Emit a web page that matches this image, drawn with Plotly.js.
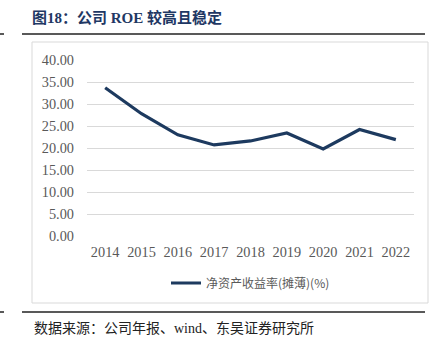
<!DOCTYPE html>
<html>
<head>
<meta charset="utf-8">
<script src="https://cdn.plot.ly/plotly-3.0.1.min.js"></script>
<style>html,body{margin:0;padding:0;background:#fff;}#chart{width:433px;height:354px;}</style>
</head>
<body>
<div id="chart"></div>
<script>
const years = ["2014","2015","2016","2017","2018","2019","2020","2021","2022"];
const roe = [33.7, 27.8, 23.0, 20.7, 21.6, 23.4, 19.8, 24.2, 21.9];
const seriesName = "净资产收益率(摊薄)(%)";
const yTicks = [0,5,10,15,20,25,30,35,40];
const titleText = "<b>图18：公司 ROE 较高且稳定</b>";
const sourceText = "数据来源：公司年报、wind、东吴证券研究所";

const W = 433, H = 354, L = 87, R = 19, T = 60, B = 118;
const pw = W - L - R, ph = H - T - B;
const px = v => (v - L) / pw;
const py = v => (H - B - v) / ph;

const serif = "'Liberation Serif', 'Times New Roman', 'Noto Sans CJK SC', serif";

Plotly.newPlot('chart', [{
  x: years, y: roe, type: 'scatter', mode: 'lines', name: seriesName,
  line: {color: '#1d3a5f', width: 3.2}
}], {
  width: W, height: H,
  margin: {l: L, r: R, t: T, b: B, pad: 0},
  paper_bgcolor: '#fff', plot_bgcolor: '#fff',
  font: {family: serif, color: '#595959', size: 14.3},
  title: {text: titleText, xref: 'container', yref: 'container', x: 32/W, y: 1 - 18/H,
          xanchor: 'left', yanchor: 'middle',
          font: {family: serif, size: 15, color: '#1f3864'}},
  xaxis: {type: 'category', range: [-0.5, years.length - 0.5], showgrid: false, zeroline: false, showline: false,
          ticks: '', tickfont: {size: 14.3, color: '#595959'}, ticklabelstandoff: 6, fixedrange: true},
  yaxis: {range: [0, 40], tickvals: yTicks, ticktext: yTicks.map(v => v.toFixed(2)),
          showgrid: true, gridcolor: '#d9d9d9', gridwidth: 1, zeroline: false, showline: false,
          ticks: '', tickfont: {size: 14.3, color: '#595959'}, ticklabelstandoff: 12, fixedrange: true},
  showlegend: true,
  legend: {orientation: 'h', x: 0.5, xanchor: 'center', y: py(283), yanchor: 'middle',
           font: {family: "'Noto Sans CJK SC', sans-serif", size: 12, color: '#595959'},
           bgcolor: 'rgba(0,0,0,0)'},
  shapes: [
    {type: 'rect', xref: 'paper', yref: 'paper', x0: px(32), x1: px(428), y0: py(42), y1: py(303),
     line: {color: '#d9d9d9', width: 1}, layer: 'below'},
    {type: 'line', xref: 'paper', yref: 'paper', x0: px(22), x1: px(425), y0: py(34), y1: py(34),
     line: {color: '#222', width: 1.5}},
    {type: 'line', xref: 'paper', yref: 'paper', x0: px(0), x1: px(4), y0: py(34), y1: py(34),
     line: {color: '#222', width: 1.5}},
    {type: 'line', xref: 'paper', yref: 'paper', x0: px(22), x1: px(425), y0: py(312), y1: py(312),
     line: {color: '#222', width: 1.5}},
    {type: 'line', xref: 'paper', yref: 'paper', x0: px(0), x1: px(4), y0: py(312), y1: py(312),
     line: {color: '#222', width: 1.5}}
  ],
  annotations: [
    {text: sourceText, xref: 'paper', yref: 'paper', x: px(32), y: py(328), xanchor: 'left', yanchor: 'middle',
     showarrow: false, font: {family: serif, size: 14, color: '#222'}}
  ]
}, {staticPlot: true, displayModeBar: false});
</script>
</body>
</html>
